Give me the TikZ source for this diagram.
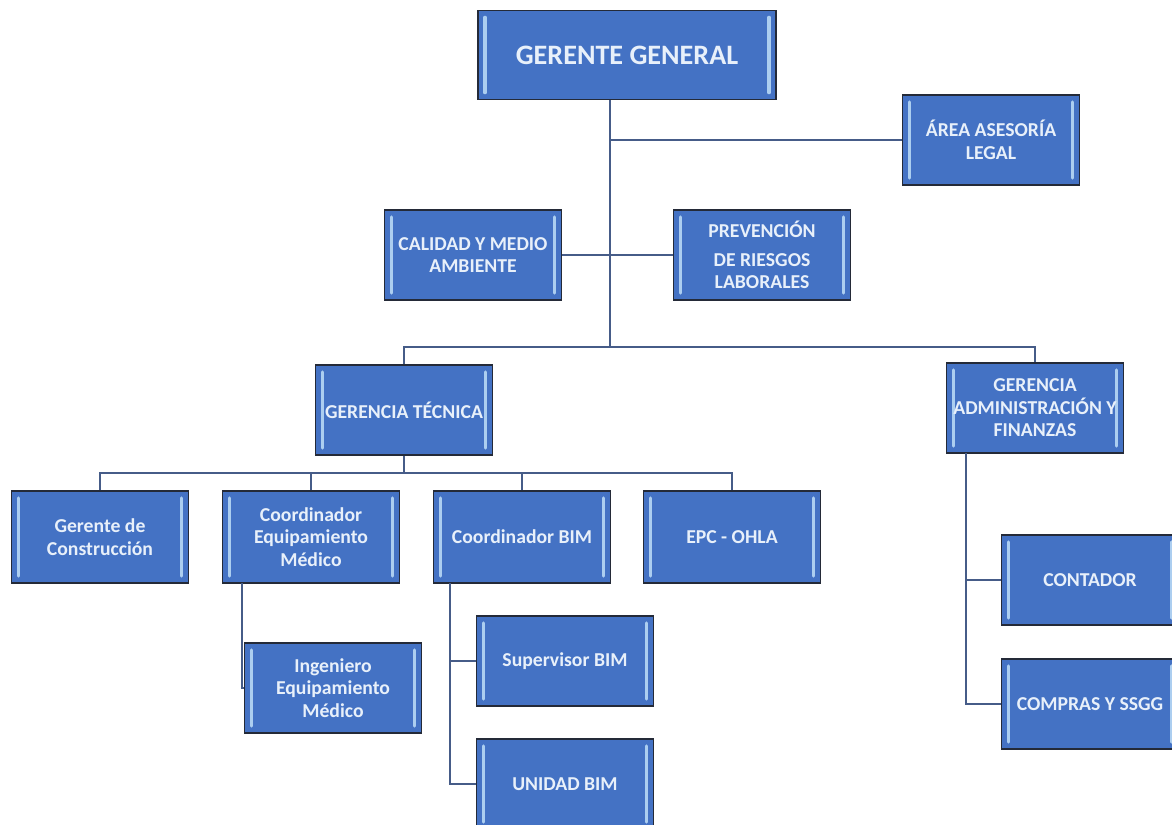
\documentclass[tikz,border=0pt]{standalone}
\usepackage{fontspec}
\setmainfont{Carlito}
\usepackage{tikz}
\usetikzlibrary{positioning, calc}

\definecolor{boxblue}{RGB}{68,114,196}
\definecolor{boxline}{RGB}{36,42,56}
\definecolor{boxtext}{RGB}{232,240,250}
\definecolor{barblue}{RGB}{172,206,240}
\definecolor{linkcol}{RGB}{70,92,136}

\begin{document}
\begin{tikzpicture}[
    x=0.025cm, y=-0.025cm,
    bar/.style={line width=2.4pt, line cap=round, draw=barblue},
    unit/.style={draw=boxline, line width=1.2pt, fill=boxblue, text=boxtext,
        minimum width=4.43cm, minimum height=2.25cm, inner sep=1pt, align=center,
        font=\bfseries\fontsize{14}{16}\selectfont,
        path picture={
            \draw[bar] ([xshift=5pt,yshift=-5pt]path picture bounding box.north west)
                -- ([xshift=5pt,yshift=5pt]path picture bounding box.south west);
            \draw[bar] ([xshift=-5pt,yshift=-5pt]path picture bounding box.north east)
                -- ([xshift=-5pt,yshift=5pt]path picture bounding box.south east);}},
    head/.style={unit, minimum width=7.45cm, minimum height=2.23cm, font=\bfseries\fontsize{20}{22}\selectfont},
    link/.style={draw=linkcol, line width=1.3pt}
]
    \useasboundingbox (0,0) rectangle (1172,824);
    \clip (0,0) rectangle (1172,824);

    \node[head] (gg)      at (627,55)   {GERENTE GENERAL};
    \node[unit] (legal)   at (991,140)  {ÁREA ASESORÍA\\LEGAL};
    \node[unit] (calidad) at (473,255)  {CALIDAD Y MEDIO\\AMBIENTE};
    \node[unit] (prev)    at (762,255)  {PREVENCIÓN\\[4pt]DE RIESGOS\\LABORALES};

    \node[unit] (gtec)    at (404,410)  {GERENCIA TÉCNICA};
    \node[unit] (gadm)    at (1035,408) {GERENCIA\\ADMINISTRACIÓN Y\\FINANZAS};

    \node[unit, minimum height=2.3cm] (gcons) at (100,537) {Gerente de\\Construcción};
    \node[unit, minimum height=2.3cm] (ceq)   at (311,537) {Coordinador\\Equipamiento\\Médico};
    \node[unit, minimum height=2.3cm] (cbim)  at (522,537) {Coordinador BIM};
    \node[unit, minimum height=2.3cm] (epc)   at (732,537) {EPC - OHLA};

    \node[unit] (ing)  at (333,688)  {Ingeniero\\Equipamiento\\Médico};
    \node[unit] (sup)  at (565,661)  {Supervisor BIM};
    \node[unit] (unid) at (565,784)  {UNIDAD BIM};
    \node[unit] (cont) at (1090,580) {CONTADOR};
    \node[unit] (comp) at (1090,704) {COMPRAS Y SSGG};

    \coordinate (trunk)  at (610,347);
    \coordinate (tbus)   at (404,473);
    \coordinate (eqbus)  at (242,583);
    \coordinate (bimbus) at (450,583);
    \coordinate (admbus) at (966,453);

    \draw[link] (gg.south -| trunk) -- (trunk);
    \draw[link] (legal.west) -- (legal.west -| trunk);
    \draw[link] (calidad.east) -- (prev.west);
    \draw[link] (gtec.north) |- (trunk) -| (gadm.north);

    \draw[link] (gtec.south) -- (tbus);
    \draw[link] (gcons.north) |- (tbus) -| (epc.north);
    \draw[link] (ceq.north) -- (ceq.north |- tbus);
    \draw[link] (cbim.north) -- (cbim.north |- tbus);

    \draw[link] (eqbus) |- (ing.west);
    \draw[link] (bimbus) |- (sup.west);
    \draw[link] (bimbus) |- (unid.west);
    \draw[link] (admbus) |- (cont.west);
    \draw[link] (admbus) |- (comp.west);
\end{tikzpicture}
\end{document}
